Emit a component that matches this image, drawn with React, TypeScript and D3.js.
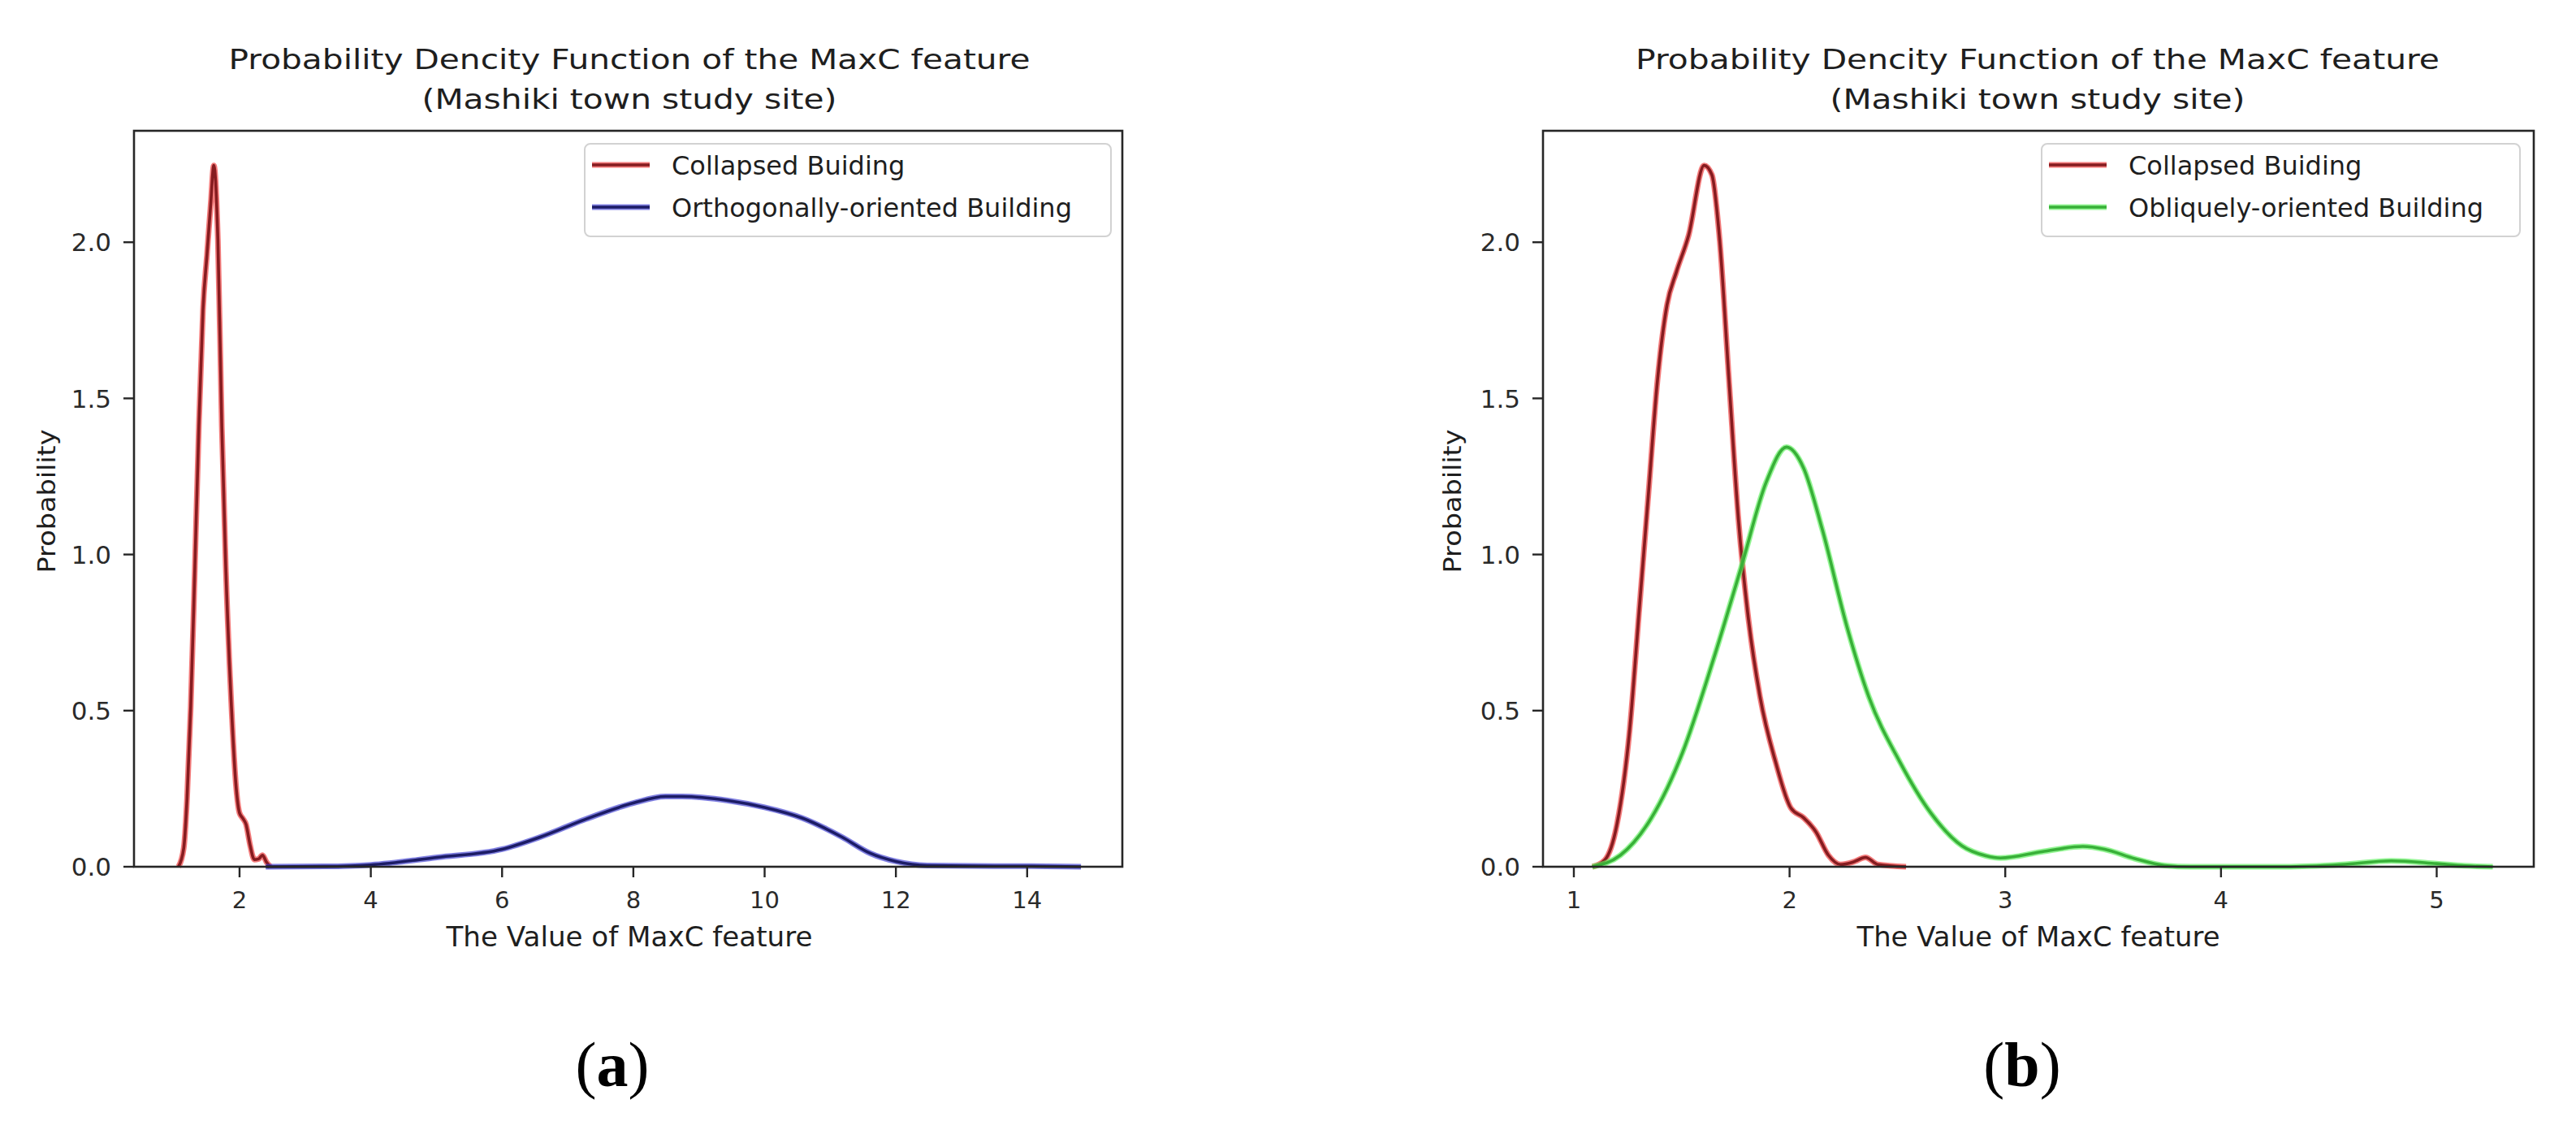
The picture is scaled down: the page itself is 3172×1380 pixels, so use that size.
import React from 'react';
import * as d3 from 'd3';

// ---------- data ----------
const TITLE_LINE1 = 'Probability Dencity Function of the MaxC feature';
const TITLE_LINE2 = '(Mashiki town study site)';
const X_LABEL = 'The Value of MaxC feature';
const Y_LABEL = 'Probability';

const X_TICKS_A = [2, 4, 6, 8, 10, 12, 14];
const X_TICKS_B = [1, 2, 3, 4, 5];
const Y_TICKS = [0.0, 0.5, 1.0, 1.5, 2.0];

// Panel (a): collapsed buildings
const collapsedA_x = [1.07, 1.15, 1.2, 1.257, 1.32, 1.38, 1.443, 1.505, 1.56, 1.608, 1.67, 1.73, 1.79, 1.876, 1.95, 2.0, 2.05, 2.1, 2.16, 2.226, 2.29, 2.35, 2.41, 2.47];
const collapsedA_y = [0, 0.06, 0.217, 0.515, 0.963, 1.41, 1.784, 1.963, 2.12, 2.246, 2.008, 1.41, 0.963, 0.515, 0.25, 0.172, 0.155, 0.135, 0.07, 0.023, 0.025, 0.037, 0.015, 0];

// Panel (a): orthogonally-oriented buildings
const orthoA_x = [2.4, 3.3, 4.0, 5.01, 6.0, 6.58, 7.27, 8.0, 8.49, 8.74, 9.44, 10.0, 10.57, 11.18, 11.61, 12.0, 12.48, 13.5, 14.0, 14.82];
const orthoA_y = [0, 0.001, 0.006, 0.03, 0.056, 0.095, 0.152, 0.204, 0.225, 0.225, 0.212, 0.19, 0.156, 0.095, 0.043, 0.017, 0.004, 0.002, 0.002, 0];

// Panel (b): collapsed buildings
const collapsedB_x = [1.086, 1.144, 1.201, 1.259, 1.302, 1.345, 1.388, 1.432, 1.475, 1.532, 1.604, 1.64, 1.676, 1.719, 1.763, 1.806, 1.863, 1.935, 2.007, 2.065, 2.122, 2.18, 2.237, 2.295, 2.352, 2.41, 2.54];
const collapsedB_y = [0, 0.022, 0.14, 0.44, 0.813, 1.187, 1.56, 1.8, 1.904, 2.022, 2.246, 2.216, 2.007, 1.56, 1.112, 0.813, 0.545, 0.336, 0.187, 0.157, 0.112, 0.037, 0.007, 0.015, 0.03, 0.007, 0];

// Panel (b): obliquely-oriented buildings
const obliqueB_x = [1.086, 1.216, 1.36, 1.504, 1.647, 1.777, 1.892, 1.986, 2.065, 2.151, 2.266, 2.367, 2.511, 2.655, 2.799, 2.91, 2.977, 3.17, 3.36, 3.46, 3.6, 3.74, 3.86, 4.3, 4.56, 4.79, 5.0, 5.13, 5.26];
const obliqueB_y = [0, 0.037, 0.157, 0.366, 0.664, 0.962, 1.232, 1.344, 1.277, 1.082, 0.769, 0.545, 0.336, 0.172, 0.067, 0.035, 0.028, 0.048, 0.065, 0.056, 0.026, 0.004, 0, 0, 0.007, 0.019, 0.01, 0.003, 0];

const LEGEND_A = ['Collapsed Buiding', 'Orthogonally-oriented Building'];
const LEGEND_B = ['Collapsed Buiding', 'Obliquely-oriented Building'];

// ---------- styles ----------
const FONT = 'DejaVu Sans, Verdana, sans-serif';
const RED = { halo: '#ec3434', core: '#861c20' };
const BLUE = { halo: '#3a3ad0', core: '#1c1c66' };
const GREEN = { halo: '#5cf05c', core: '#38b038' };
const AXIS = '#262626';

type Series = { xs: number[]; ys: number[]; color: { halo: string; core: string } };

function zip(xs: number[], ys: number[]): [number, number][] {
  return xs.map((x, i) => [x, ys[i]]);
}

function Panel(props: {
  left: number; right: number; top: number; bottom: number;
  xDomain: [number, number]; xTicks: number[]; series: Series[];
  legend: string[]; legendBox: { x0: number; x1: number };
  titleW1: number; titleW2: number; titleCx: number;
  xLabelCx: number; xLabelW: number; yLabelX: number; tag: string; tagCx: number;
}) {
  const { left, right, top, bottom } = props;
  const x = d3.scaleLinear().domain(props.xDomain).range([left, right]);
  const y = d3.scaleLinear().domain([0, 2.357]).range([bottom, top]);
  const line = d3.line<[number, number]>()
    .x((d) => x(d[0]))
    .y((d) => y(d[1]))
    .curve(d3.curveMonotoneX);
  const tickLen = 13;
  const { x0, x1 } = props.legendBox;
  const legendItemsY = [203, 255];
  return (
    <g>
      {/* titles */}
      <text x={props.titleCx} y={85} textAnchor="middle" fontFamily={FONT} fontSize={34} fill="#1e1e1e"
        textLength={props.titleW1} lengthAdjust="spacingAndGlyphs">{TITLE_LINE1}</text>
      <text x={props.titleCx} y={134} textAnchor="middle" fontFamily={FONT} fontSize={34} fill="#1e1e1e"
        textLength={props.titleW2} lengthAdjust="spacingAndGlyphs">{TITLE_LINE2}</text>

      {/* curves */}
      {props.series.map((s, i) => (
        <g key={i}>
          <path d={line(zip(s.xs, s.ys)) || ''} fill="none" stroke={s.color.halo} strokeWidth={7} strokeOpacity={0.65} strokeLinejoin="round" />
          <path d={line(zip(s.xs, s.ys)) || ''} fill="none" stroke={s.color.core} strokeWidth={3.6} strokeLinejoin="round" />
        </g>
      ))}

      {/* frame */}
      <rect x={left} y={top} width={right - left} height={bottom - top} fill="none" stroke={AXIS} strokeWidth={2.6} />

      {/* x ticks */}
      {props.xTicks.map((t) => (
        <g key={'x' + t}>
          <line x1={x(t)} x2={x(t)} y1={bottom} y2={bottom + tickLen} stroke={AXIS} strokeWidth={2.4} />
          <text x={x(t)} y={1118} textAnchor="middle" fontFamily={FONT} fontSize={29} fill="#2a2a2a">{String(t)}</text>
        </g>
      ))}
      {/* y ticks */}
      {Y_TICKS.map((t) => (
        <g key={'y' + t}>
          <line x1={left - tickLen} x2={left} y1={y(t)} y2={y(t)} stroke={AXIS} strokeWidth={2.4} />
          <text x={left - 28} y={y(t)} dy="0.36em" textAnchor="end" fontFamily={FONT} fontSize={31} fill="#2a2a2a">{t.toFixed(1)}</text>
        </g>
      ))}

      {/* axis labels */}
      <text x={props.xLabelCx} y={1165} textAnchor="middle" fontFamily={FONT} fontSize={33} fill="#1e1e1e"
        textLength={props.xLabelW} lengthAdjust="spacingAndGlyphs">{X_LABEL}</text>
      <text transform={`translate(${props.yLabelX},617) rotate(-90)`} textAnchor="middle" dy="0.35em" fontFamily={FONT} fontSize={31} fill="#1e1e1e"
        textLength={177} lengthAdjust="spacingAndGlyphs">{Y_LABEL}</text>

      {/* legend */}
      <rect x={x0} y={177} width={x1 - x0} height={114} rx={7} ry={7} fill="#ffffff" fillOpacity={0.85} stroke="#d2d2d2" strokeWidth={2} />
      {props.legend.map((label, i) => (
        <g key={label}>
          <line x1={x0 + 9} x2={x0 + 80} y1={legendItemsY[i]} y2={legendItemsY[i]} stroke={props.series[i].color.halo} strokeWidth={7} strokeOpacity={0.65} />
          <line x1={x0 + 9} x2={x0 + 80} y1={legendItemsY[i]} y2={legendItemsY[i]} stroke={props.series[i].color.core} strokeWidth={3.6} />
          <text x={x0 + 107} y={legendItemsY[i] + 12} fontFamily={FONT} fontSize={32} fill="#1e1e1e">{label}</text>
        </g>
      ))}

      {/* panel tag */}
      <text x={props.tagCx} y={1337} textAnchor="middle" fontFamily="Liberation Serif, Times New Roman, serif" fontSize={78} fill="#000">
        (<tspan fontWeight="bold">{props.tag}</tspan>)
      </text>
    </g>
  );
}

export default function App() {
  const seriesA: Series[] = [
    { xs: collapsedA_x, ys: collapsedA_y, color: RED },
    { xs: orthoA_x, ys: orthoA_y, color: BLUE },
  ];
  const seriesB: Series[] = [
    { xs: collapsedB_x, ys: collapsedB_y, color: RED },
    { xs: obliqueB_x, ys: obliqueB_y, color: GREEN },
  ];
  return (
    <svg width={3172} height={1380} viewBox="0 0 3172 1380"
      style={{ position: 'absolute', left: 0, top: 0, background: '#fff' }}>
      <rect x={0} y={0} width={3172} height={1380} fill="#fff" />
      <Panel left={165} right={1382} top={161} bottom={1067} xDomain={[0.392, 15.45]} xTicks={X_TICKS_A}
        series={seriesA} legend={LEGEND_A} legendBox={{ x0: 720, x1: 1368 }}
        titleW1={987} titleW2={511} titleCx={775} xLabelCx={775} xLabelW={451} yLabelX={57} tag="a" tagCx={754} />
      <Panel left={1900} right={3120} top={161} bottom={1067} xDomain={[0.857, 5.45]} xTicks={X_TICKS_B}
        series={seriesB} legend={LEGEND_B} legendBox={{ x0: 2514, x1: 3103 }}
        titleW1={990} titleW2={511} titleCx={2509} xLabelCx={2510} xLabelW={447} yLabelX={1788} tag="b" tagCx={2490} />
    </svg>
  );
}
